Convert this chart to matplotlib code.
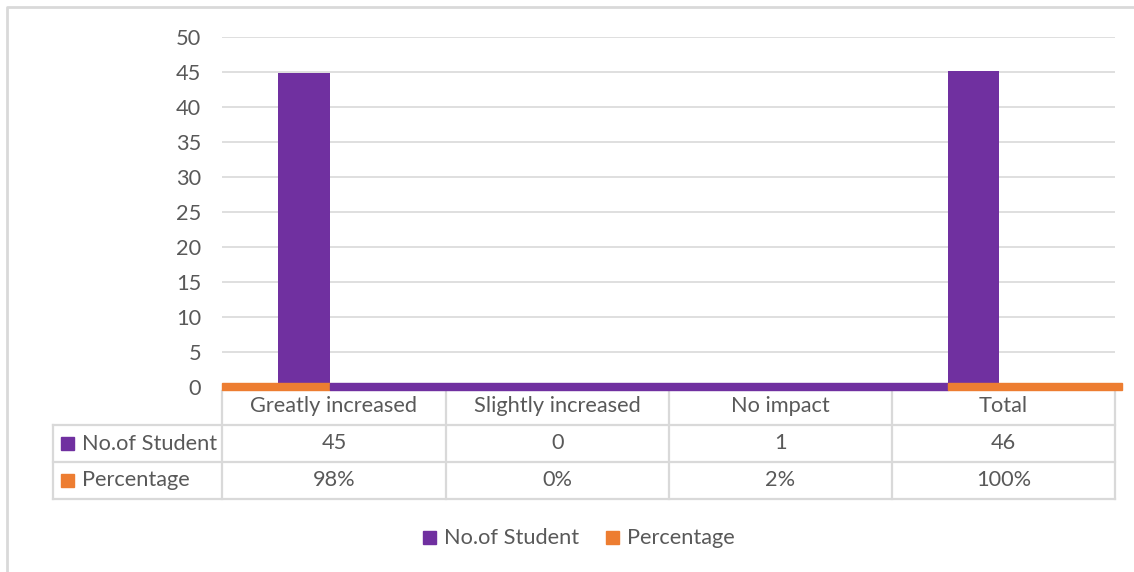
import matplotlib.pyplot as plt
from matplotlib.patches import Rectangle

categories = ["Greatly increased", "Slightly increased", "No impact", "Total"]
students = [45, 0, 1, 46]
percentage = [98, 0, 2, 100]
# heights of the purple columns as drawn in the picture
bar_heights = [44.9, 0, 0, 45.1]
series_names = ["No.of Student", "Percentage"]

PURPLE = "#7030a0"
ORANGE = "#ed7d31"
GRID = "#d9d9d9"
TXT = "#595959"
FONT = "Lato"
FS = 15.7

W, H = 1134, 572
fig = plt.figure(figsize=(W / 100, H / 100), dpi=100)


def fx(px):
    return px / W


def fy(py):
    return 1 - py / H


# overlay for table, border and legend (pixel coords)
ov = fig.add_axes([0, 0, 1, 1])
ov.set_xlim(0, W)
ov.set_ylim(H, 0)
ov.axis("off")

# chart border
ov.plot([7, 7, W], [H, 7, 7], color=GRID, lw=2, solid_capstyle="butt")

# plot area
x0, x1, ytop, ybot = 222, 1115, 37, 387
ax = fig.add_axes([fx(x0), fy(ybot), fx(x1 - x0), (ybot - ytop) / H])
ax.set_xlim(-0.5, 3.5)
ax.set_ylim(0, 50)
ax.set_yticks(range(0, 51, 5))
ax.yaxis.grid(True, color=GRID, lw=1.2)
ax.set_axisbelow(True)
ax.tick_params(axis="y", length=0, pad=15, labelsize=FS, labelcolor=TXT)
for lab in ax.get_yticklabels():
    lab.set_family(FONT)
ax.set_xticks([])
for s in ax.spines.values():
    s.set_visible(False)

off, bw = -0.134, 0.232
xs = [i + off for i in range(len(categories))]
ax.bar(xs, bar_heights, width=bw, color=PURPLE, zorder=3)

# thick baseline strip, as rendered in the reference
left_end = xs[0] + bw / 2
right_start = xs[3] - bw / 2
strip = [(-0.5, left_end, ORANGE), (left_end, right_start, PURPLE), (right_start, 3.53, ORANGE)]
for a, b, c in strip:
    ax.add_patch(Rectangle((a, -0.45), b - a, 1.0, color=c, zorder=4, clip_on=False))

# data table
cols = [222, 446, 669, 892, 1115]
rows = [425, 462, 499]
for x in cols:
    ov.plot([x, x], [391, rows[-1]], color=GRID, lw=1.6)
ov.plot([53, 53], [rows[0], rows[-1]], color=GRID, lw=1.6)
for y in rows:
    ov.plot([53, 1115], [y, y], color=GRID, lw=1.6)

for i, c in enumerate(categories):
    cx = (cols[i] + cols[i + 1]) / 2
    ov.text(cx, 406, c, ha="center", va="center", fontsize=FS, color=TXT, family=FONT)
    ov.text(cx, 443, str(students[i]), ha="center", va="center", fontsize=FS, color=TXT, family=FONT)
    ov.text(cx, 480, f"{percentage[i]}%", ha="center", va="center", fontsize=FS, color=TXT, family=FONT)

for j, (name, col) in enumerate(zip(series_names, [PURPLE, ORANGE])):
    cy = 443.5 + 37 * j
    ov.add_patch(Rectangle((61, cy - 7), 13, 13, color=col))
    ov.text(82, cy, name, ha="left", va="center", fontsize=FS, color=TXT, family=FONT)

# legend
for lx, name, col in [(423, series_names[0], PURPLE), (606, series_names[1], ORANGE)]:
    ov.add_patch(Rectangle((lx, 531), 13, 13, color=col))
    ov.text(lx + 21, 538, name, ha="left", va="center", fontsize=FS, color=TXT, family=FONT)

fig.savefig("out.png", dpi=100)
